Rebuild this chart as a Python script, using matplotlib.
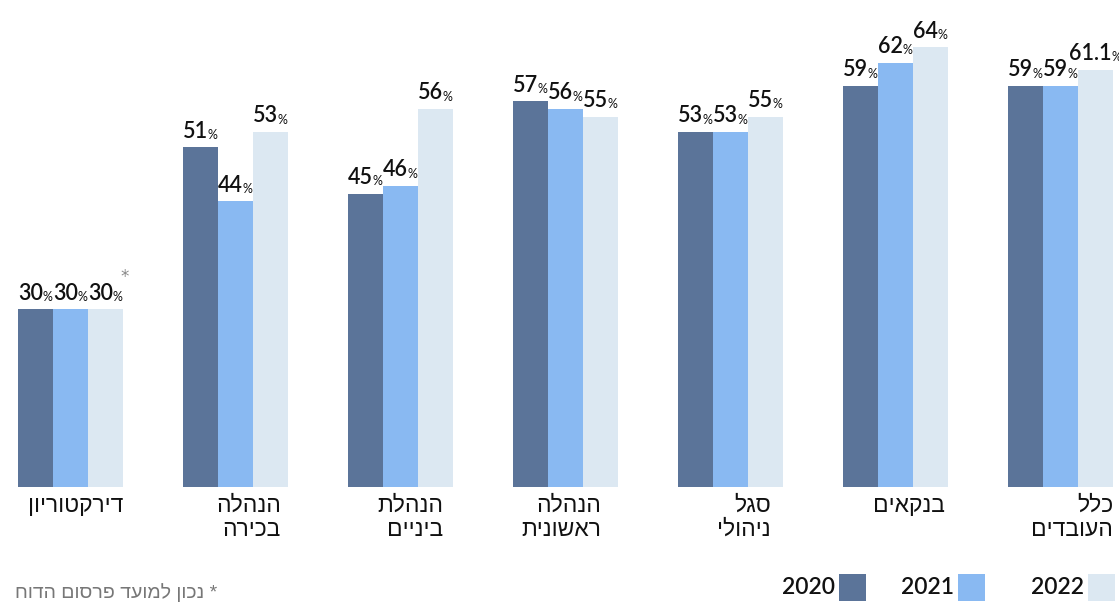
'''
    Grouped bar chart: share of women by rank, 2020-2022
'''
from matplotlib import pyplot as plt
from matplotlib.patches import Rectangle
import numpy as np

# categories in right-to-left (reading) order
categories = ['כלל\nהעובדים', 'בנקאים', 'סגל\nניהולי', 'הנהלה\nראשונית',
              'הנהלת\nביניים', 'הנהלה\nבכירה', 'דירקטוריון']
years = ['2020', '2021', '2022']
v2020 = [59, 59, 53, 57, 45, 51, 30]
v2021 = [59, 62, 53, 56, 46, 44, 30]
v2022 = [61.1, 64, 55, 55, 56, 53, 30]
footnote = '* נכון למועד פרסום הדוח'

COLORS = ['#5b7499', '#89b9f2', '#dce8f2']
NUM_FONT = 'Lato'
HEB_FONT = ['Liberation Sans', 'DejaVu Sans']

def heb(s):
    ''' visual order for hebrew (line by line) '''
    return '\n'.join(line[::-1] for line in s.split('\n'))

def fmt(v):
    return '{:g}'.format(v)

def main():
    W, H = 1119, 602
    fig = plt.figure(figsize=(W / 100, H / 100), dpi=100)
    base = 487
    ax = fig.add_axes([0, (H - base) / H, 1, base / H])

    # plotted left to right = reversed reading order
    cats = categories[::-1]
    series = [v2020[::-1], v2021[::-1], v2022[::-1]]
    n = len(cats)
    x = np.arange(n)
    gap = 165.0
    bw = 35.0 / gap

    for k, vals in enumerate(series):
        xs = x + (k - 1) * bw
        ax.bar(xs, vals, width=bw, color=COLORS[k], linewidth=0, zorder=2)
        for xi, v in zip(xs, vals):
            t = ax.annotate(fmt(v), xy=(xi, v), xytext=(-3.5, 4),
                            textcoords='offset points', ha='center',
                            va='bottom', fontsize=15.5, family=NUM_FONT,
                            fontweight='semibold', color='#111111')
            ax.annotate('%', xy=(1, 0), xycoords=t, xytext=(-0.5, 0.5),
                        textcoords='offset points', ha='left', va='bottom',
                        fontsize=9, family=NUM_FONT, color='#111111')

    # asterisk on the board of directors 2022 label
    ax.annotate('*', xy=(x[0] + bw, 30), xytext=(14, 17),
                textcoords='offset points', ha='center', va='bottom',
                fontsize=12, color='#888888')

    ax.set_xlim(-70.5 / gap, (W - 70.5) / gap)
    ax.set_ylim(6.9, 6.9 + base / 7.7)
    ax.set_axis_off()

    # category labels, right aligned under each group (small per-label nudges)
    nudge = [0, -7, -10, -17, -12, -3, 0]
    for xi, c, dx in zip(x, cats, nudge):
        ax.annotate(heb(c), xy=(xi + 1.5 * bw, 6.9), xytext=(dx * 0.72, -5),
                    textcoords='offset points', ha='right', va='top',
                    multialignment='right', fontsize=16.5, family=HEB_FONT,
                    color='#111111', linespacing=1.05, annotation_clip=False)

    # legend, bottom right
    sq = 27
    for yr, col, right in zip(years, COLORS, [866, 985, 1115]):
        fig.add_artist(Rectangle(((right - sq) / W, (H - 601) / H), sq / W,
                                 sq / H, transform=fig.transFigure,
                                 facecolor=col, edgecolor='none'))
        fig.text((right - sq - 4) / W, (H - 588) / H, yr, ha='right',
                 va='center', fontsize=16.5, family=NUM_FONT,
                 fontweight='semibold', color='#111111')

    fig.text(15 / W, (H - 593) / H, heb(footnote), ha='left', va='center',
             fontsize=14, family=HEB_FONT, color='#777777')

    fig.savefig('out.png', dpi=100)
    plt.close(fig)

if __name__ == '__main__': main()
